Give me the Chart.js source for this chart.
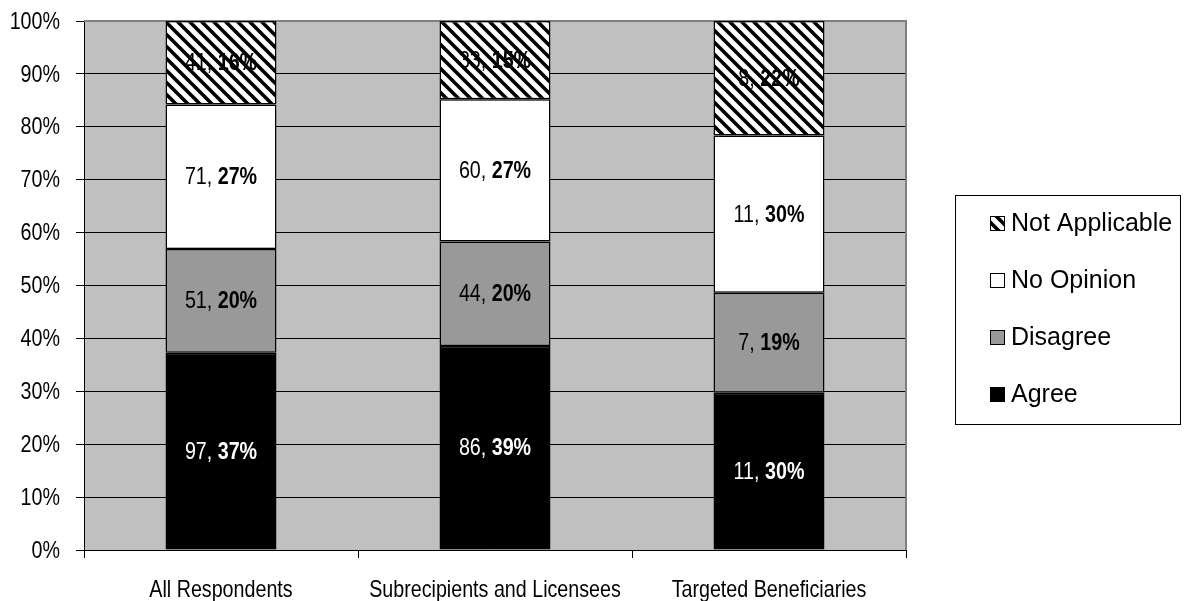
<!DOCTYPE html>
<html>
<head>
<meta charset="utf-8">
<script src="https://cdn.jsdelivr.net/npm/chart.js@4/dist/chart.umd.min.js"></script>
<style>
  html, body { margin: 0; padding: 0; background: #fff; }
  canvas { display: block; }
</style>
</head>
<body>
<canvas id="SurveyChart" width="1188" height="601"></canvas>
<script>
// ---- survey counts per respondent group ----
const categories = ['All Respondents', 'Subrecipients and Licensees', 'Targeted Beneficiaries'];
const agreeCounts = [97, 86, 11];
const disagreeCounts = [51, 44, 7];
const noOpinionCounts = [71, 60, 11];
const notApplicableCounts = [41, 33, 8];
const seriesNames = ['Agree', 'Disagree', 'No Opinion', 'Not Applicable'];

const FONT = '"Liberation Sans", Arial, sans-serif';
const NARROW_X = 0.82; // squeeze Arial-like text into an "Arial Narrow" look

// total answers per group, used to turn counts into 100% stacks
const totals = categories.map((_, i) =>
    agreeCounts[i] + disagreeCounts[i] + noOpinionCounts[i] + notApplicableCounts[i]);
const toShare = counts => counts.map((c, i) => c / totals[i] * 100);

// diagonal stripe fill for "Not Applicable"
function makeHatch() {
    const size = 12;
    const c = document.createElement('canvas');
    c.width = size; c.height = size;
    const g = c.getContext('2d');
    g.fillStyle = '#fff';
    g.fillRect(0, 0, size, size);
    g.strokeStyle = '#000';
    g.lineWidth = 3.6;
    g.beginPath();
    for (let k = -size; k <= size; k += size) {
        g.moveTo(k - 2, -2);
        g.lineTo(k + size + 2, size + 2);
    }
    g.stroke();
    return g.createPattern(c, 'repeat');
}
const hatch = makeHatch();

const rawCounts = [agreeCounts, disagreeCounts, noOpinionCounts, notApplicableCounts];
const fills = ['#000000', '#999999', '#ffffff', hatch];
const labelColors = ['#ffffff', '#000000', '#000000', '#000000'];

// draws text horizontally squeezed, x is the anchor given by align
function narrowText(ctx, text, x, y, align, font) {
    ctx.save();
    ctx.font = font;
    ctx.translate(x, y);
    ctx.scale(NARROW_X, 1);
    ctx.textAlign = align;
    ctx.fillText(text, 0, 0);
    ctx.restore();
}
function narrowWidth(ctx, text, font) {
    ctx.save();
    ctx.font = font;
    const w = ctx.measureText(text).width * NARROW_X;
    ctx.restore();
    return w;
}

// grey plot background + grey frame on top/right
const plotFrame = {
    id: 'plotFrame',
    beforeDraw(chart) {
        const { ctx, chartArea: { left, top, right, bottom } } = chart;
        ctx.save();
        ctx.fillStyle = '#c0c0c0';
        ctx.fillRect(left, top, right - left, bottom - top);
        ctx.restore();
    },
    beforeDatasetsDraw(chart) {
        const { ctx, chartArea: { left, top, right, bottom } } = chart;
        ctx.save();
        ctx.strokeStyle = '#808080';
        ctx.lineWidth = 2;
        ctx.beginPath();
        ctx.moveTo(left, top);
        ctx.lineTo(right, top);
        ctx.lineTo(right, bottom);
        ctx.stroke();
        ctx.restore();
    }
};

// axis tick labels in the narrow face, placed from the scales' own ticks
const narrowTicks = {
    id: 'narrowTicks',
    afterDraw(chart) {
        const { ctx, scales: { x, y } } = chart;
        const font = '24px ' + FONT;
        ctx.save();
        ctx.fillStyle = '#000';
        ctx.textBaseline = 'middle';
        y.ticks.forEach(t => {
            narrowText(ctx, t.value + '%', 60, y.getPixelForValue(t.value) + 1, 'right', font);
        });
        ctx.textBaseline = 'alphabetic';
        x.ticks.forEach((t, i) => {
            narrowText(ctx, x.getLabelForValue(t.value), x.getPixelForTick(i), 597, 'center', font);
        });
        ctx.restore();
    }
};

// "count, pct%" in the middle of each segment, percentage in bold
const segmentLabels = {
    id: 'segmentLabels',
    afterDatasetsDraw(chart) {
        const { ctx } = chart;
        const normal = '24px ' + FONT;
        const bold = 'bold 24px ' + FONT;
        ctx.save();
        ctx.textBaseline = 'middle';
        chart.data.datasets.forEach((ds, i) => {
            const meta = chart.getDatasetMeta(i);
            meta.data.forEach((bar, j) => {
                const { x, y, base } = bar.getProps(['x', 'y', 'base'], true);
                const cy = (y + base) / 2 + 1;
                const first = rawCounts[i][j] + ', ';
                const second = Math.round(ds.data[j]) + '%';
                const w1 = narrowWidth(ctx, first, normal);
                const w2 = narrowWidth(ctx, second, bold);
                const x0 = x - (w1 + w2) / 2;
                ctx.fillStyle = labelColors[i];
                narrowText(ctx, first, x0, cy, 'left', normal);
                narrowText(ctx, second, x0 + w1, cy, 'left', bold);
            });
        });
        ctx.restore();
    }
};

// boxed legend on the right, top entry = top of the stack
const boxLegend = {
    id: 'boxLegend',
    afterDraw(chart) {
        const { ctx } = chart;
        const bx = 955, by = 195, bw = 225, bh = 229;
        ctx.save();
        ctx.strokeStyle = '#000';
        ctx.lineWidth = 1;
        ctx.strokeRect(bx + 0.5, by + 0.5, bw, bh);
        const sets = chart.data.datasets.slice().reverse();
        ctx.font = '25px ' + FONT;
        ctx.textBaseline = 'middle';
        ctx.textAlign = 'left';
        sets.forEach((ds, k) => {
            const cy = 223 + k * 57;
            ctx.fillStyle = ds.backgroundColor;
            ctx.fillRect(990, cy - 7, 14, 14);
            ctx.strokeStyle = '#000';
            ctx.lineWidth = 1;
            ctx.strokeRect(990.5, cy - 6.5, 14, 14);
            ctx.fillStyle = '#000';
            ctx.fillText(ds.label, 1011, cy + 1);
        });
        ctx.restore();
    }
};

function createSurveyChart() {
    const data = {
        labels: categories,
        datasets: rawCounts.map((counts, i) => ({
            label: seriesNames[i],
            data: toShare(counts),
            backgroundColor: fills[i],
            borderColor: '#000',
            borderWidth: 1.5,
            borderSkipped: false,
            barPercentage: 1,
            categoryPercentage: 0.405
        }))
    };

    const config = {
        type: 'bar',
        data: data,
        options: {
            responsive: false,
            animation: false,
            layout: { padding: { top: 21, right: 282, bottom: 0, left: 0 } },
            scales: {
                x: {
                    stacked: true,
                    grid: { offset: true, drawOnChartArea: false, color: '#000', tickLength: 8 },
                    border: { color: '#000', width: 1 },
                    ticks: { display: false, autoSkip: false },
                    afterFit(scale) { scale.height = 51; }
                },
                y: {
                    stacked: true,
                    min: 0,
                    max: 100,
                    grid: { color: '#000', lineWidth: 1, tickLength: 8 },
                    border: { color: '#000', width: 1 },
                    ticks: { display: false, stepSize: 10 },
                    afterFit(scale) { scale.width = 84; }
                }
            },
            plugins: {
                legend: { display: false },
                tooltip: { enabled: false }
            }
        },
        plugins: [plotFrame, narrowTicks, segmentLabels, boxLegend]
    };

    new Chart(document.getElementById('SurveyChart').getContext('2d'), config);
}

createSurveyChart();
</script>
</body>
</html>
